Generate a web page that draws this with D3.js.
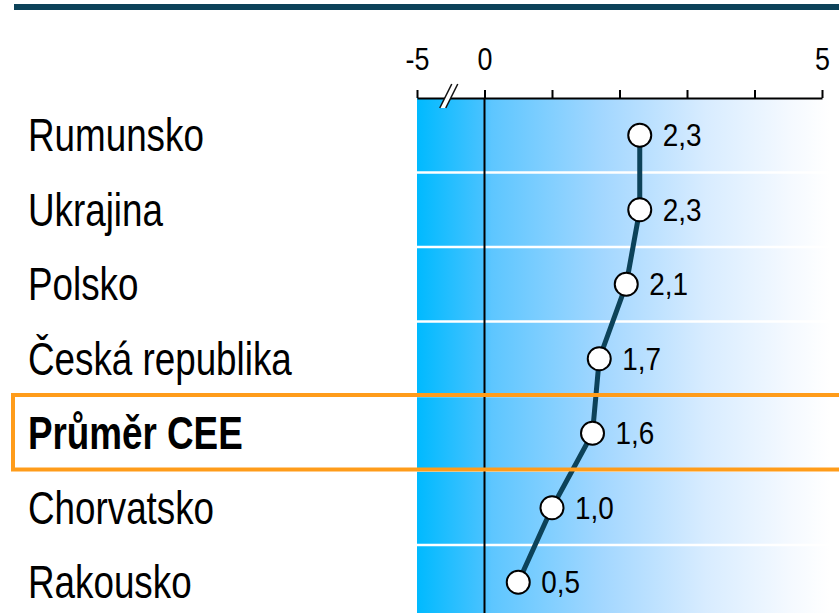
<!DOCTYPE html>
<html>
<head>
<meta charset="utf-8">
<script src="https://cdn.jsdelivr.net/npm/d3@7"></script>
<style>
  body { margin: 0; background: #fff; }
  svg { display: block; font-family: "Liberation Sans", Arial, sans-serif; }
</style>
</head>
<body>
<div id="chart"></div>
<script>
// data
const categories = ['Rumunsko', 'Ukrajina', 'Polsko', 'Česká republika', 'Průměr CEE', 'Chorvatsko', 'Rakousko'];
const values = [2.3, 2.3, 2.1, 1.7, 1.6, 1.0, 0.5];
const highlighted = 'Průměr CEE';
const tickValues = [-1, 0, 1, 2, 3, 4, 5];   // -1 stands for the broken "-5" position
const tickLabels = { '-1': '-5', '0': '0', '5': '5' };

const W = 839, H = 613;
const dark = '#0c4259';
const narrow = 0.8; // condensed look of the original font

const svg = d3.select('#chart').append('svg')
  .attr('width', W)
  .attr('height', H);

// scales
const x = d3.scaleLinear().domain([-1, 5]).range([417, 822]);
const y = d3.scaleBand().domain(categories).range([98, 98 + 74.5 * categories.length]);

// top bar
svg.append('rect')
  .attr('x', 14).attr('y', 4)
  .attr('width', W - 14).attr('height', 6)
  .attr('fill', dark);

// background gradient
const grad = svg.append('defs').append('linearGradient')
  .attr('id', 'bg').attr('x1', '0%').attr('x2', '100%');
[[0, '#00baff'], [0.16, '#47c2ff'], [0.18, '#5dc6ff'], [0.45, '#a3d7ff'],
 [0.7, '#d8ecff'], [0.9, '#f4f9ff'], [1, '#ffffff']].forEach(s => {
  grad.append('stop').attr('offset', s[0]).attr('stop-color', s[1]);
});

svg.append('rect')
  .attr('x', x(-1)).attr('y', y.range()[0])
  .attr('width', x(5) - x(-1) + 8).attr('height', H - y.range()[0])
  .attr('fill', 'url(#bg)');

// row separators
svg.append('g').selectAll('line')
  .data(categories.slice(1))
  .join('line')
  .attr('x1', x(-1)).attr('x2', x(5) + 8)
  .attr('y1', d => y(d)).attr('y2', d => y(d))
  .attr('stroke', '#fff').attr('stroke-width', 2.5);

// zero line
svg.append('line')
  .attr('x1', x(0)).attr('x2', x(0))
  .attr('y1', y.range()[0]).attr('y2', H)
  .attr('stroke', '#000').attr('stroke-width', 2);

// top axis
const axis = svg.append('g')
  .attr('transform', `translate(0, ${y.range()[0]})`)
  .call(d3.axisTop(x)
    .tickValues(tickValues)
    .tickSize(8)
    .tickSizeOuter(0)
    .tickPadding(20)
    .tickFormat(d => tickLabels[d] || ''));
axis.select('.domain').attr('stroke', '#000').attr('stroke-width', 2);
axis.selectAll('.tick line').attr('stroke', '#000').attr('stroke-width', 2);
axis.selectAll('.tick text')
  .attr('fill', '#000')
  .attr('font-size', 32)
  .attr('font-family', '"Liberation Sans", Arial, sans-serif')
  .attr('transform', 'scale(0.84,1)');

// axis break mark
const bx = (x(-1) + x(0)) / 2 - 2, by = y.range()[0];
svg.append('path')
  .attr('d', `M${bx - 9},${by + 10} L${bx - 3},${by + 10} L${bx + 9},${by - 14} L${bx + 3},${by - 14} Z`)
  .attr('fill', '#fff');
[[-9, 3], [-3, 9]].forEach(o => {
  svg.append('line')
    .attr('x1', bx + o[0]).attr('y1', by + 10)
    .attr('x2', bx + o[1]).attr('y2', by - 14)
    .attr('stroke', '#111').attr('stroke-width', 1.6);
});

// category labels
svg.append('g').selectAll('text')
  .data(categories)
  .join('text')
  .attr('transform', d => `translate(28, ${y(d) + y.bandwidth() / 2 + 16}) scale(${narrow},1)`)
  .attr('font-size', 46)
  .attr('font-weight', d => d === highlighted ? 'bold' : 'normal')
  .attr('fill', '#000')
  .text(d => d);

// data line
const pts = categories.map((c, i) => [x(values[i]), y(c) + y.bandwidth() / 2]);
svg.append('path')
  .attr('d', d3.line()(pts))
  .attr('fill', 'none')
  .attr('stroke', dark)
  .attr('stroke-width', 5);

// markers
svg.append('g').selectAll('circle')
  .data(pts)
  .join('circle')
  .attr('cx', d => d[0]).attr('cy', d => d[1])
  .attr('r', 11.5)
  .attr('fill', '#fff')
  .attr('stroke', '#000')
  .attr('stroke-width', 2);

// value labels
svg.append('g').selectAll('text')
  .data(pts)
  .join('text')
  .attr('transform', d => `translate(${d[0] + 23}, ${d[1] + 11}) scale(0.9,1)`)
  .attr('font-size', 31)
  .attr('fill', '#000')
  .text((d, i) => d3.format('.1f')(values[i]).replace('.', ','));

// highlight box
const hy = y(highlighted);
svg.append('rect')
  .attr('x', 13).attr('y', hy - 1)
  .attr('width', W).attr('height', y.bandwidth())
  .attr('fill', 'none')
  .attr('stroke', '#ff9c1a')
  .attr('stroke-width', 4);
</script>
</body>
</html>
